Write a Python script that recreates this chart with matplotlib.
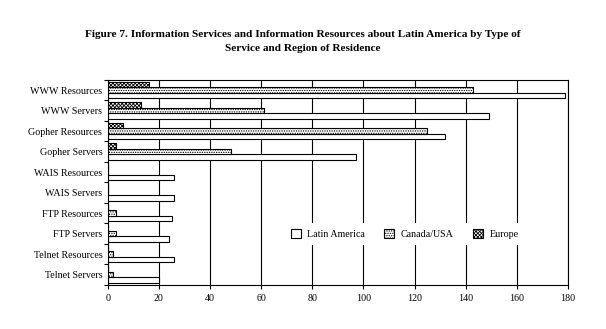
import numpy as np
import matplotlib
matplotlib.use("Agg")
import matplotlib.pyplot as plt

categories = ["WWW Resources", "WWW Servers", "Gopher Resources", "Gopher Servers",
              "WAIS Resources", "WAIS Servers", "FTP Resources", "FTP Servers",
              "Telnet Resources", "Telnet Servers"]
latin_america = [179, 149, 132, 97, 26, 26, 25, 24, 26, 20]
canada_usa = [143, 61, 125, 48, 0, 0, 3, 3, 2, 2]
europe = [16, 13, 6, 3, 0, 0, 0, 0, 0, 0]
series_labels = ["Latin America", "Canada/USA", "Europe"]

plt.rcParams["font.family"] = ["Liberation Serif", "DejaVu Serif"]
plt.rcParams["hatch.linewidth"] = 0.6

fig = plt.figure(figsize=(6.06, 3.29), dpi=100)
ax = fig.add_axes([0.178, 0.134, 0.759, 0.623])

y = np.arange(len(categories))
h = 0.27
styles = [("white", ""), ("white", "......."), ("white", "xxxxxxxxx")]
offsets = [h, 0, -h]
for vals, label, (fc, hatch), off in zip([latin_america, canada_usa, europe],
                                          series_labels, styles, offsets):
    ax.barh(y + off, vals, height=h, color=fc, edgecolor="black",
            hatch=hatch, linewidth=0.8, label=label)

ax.set_xlim(0, 180)
ax.set_ylim(len(categories) - 0.5, -0.5)
ax.set_xticks(range(0, 181, 20))
ax.set_yticks(y)
ax.set_yticklabels(categories)
ax.set_yticks(np.arange(-0.5, len(categories)), minor=True)
ax.tick_params(axis="y", which="major", length=0, labelsize=7.2, pad=4)
ax.tick_params(axis="y", which="minor", length=3, direction="out", width=0.8)
ax.tick_params(axis="x", length=3, direction="out", labelsize=7.2, width=0.8)
ax.grid(True, axis="x", color="black", linewidth=0.8)
ax.set_axisbelow(True)
for s in ax.spines.values():
    s.set_linewidth(0.8)

leg = ax.legend(loc="center", bbox_to_anchor=(0.645, 0.25), ncol=3, frameon=True,
                fontsize=7.2, handlelength=1.0, handleheight=1.0, columnspacing=2.0,
                handletextpad=0.6, fancybox=False, framealpha=1, borderpad=0.6)
leg.get_frame().set_edgecolor("none")
leg.get_frame().set_facecolor("white")

fig.text(0.5, 0.874, "Figure 7. Information Services and Information Resources about Latin America by Type of\nService and Region of Residence",
         ha="center", va="center", fontsize=8.1, fontweight="bold", linespacing=1.6)

fig.savefig("out.png", dpi=100)
